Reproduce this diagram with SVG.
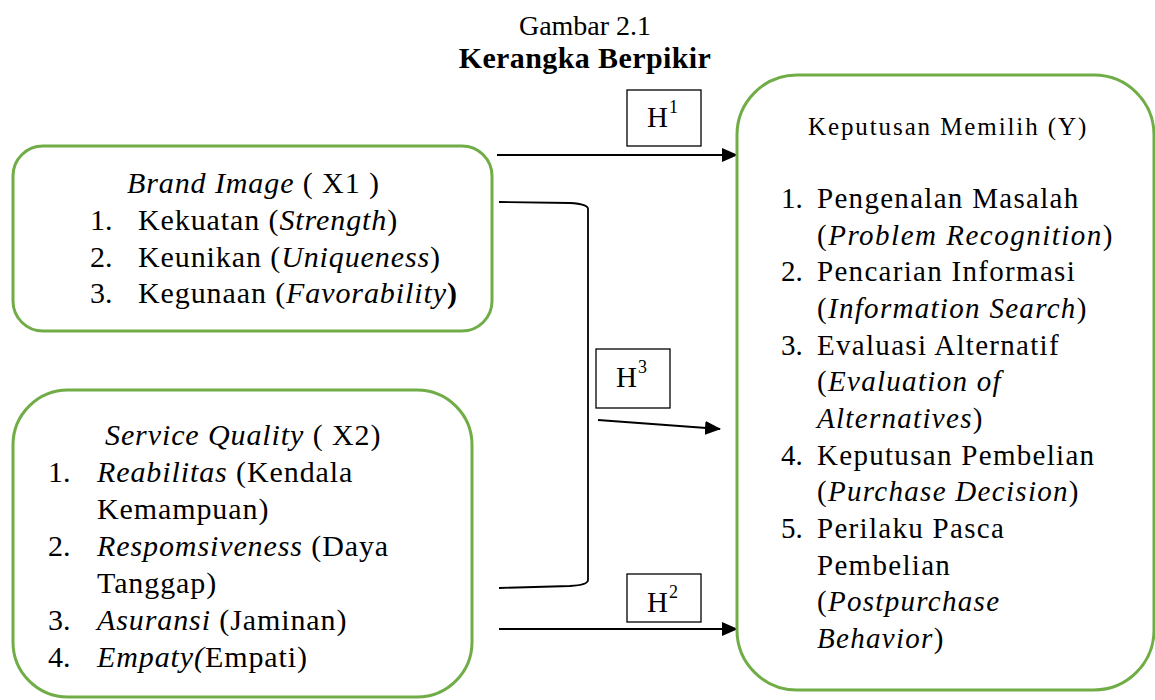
<svg xmlns="http://www.w3.org/2000/svg" width="1155" height="700" viewBox="0 0 1155 700">
<defs>
<style>
.box{fill:#fff;stroke:#70AD47;stroke-width:3}
.hb{fill:#fff;stroke:#000;stroke-width:1.3}
.ln{fill:none;stroke:#000;stroke-width:1.8}
</style>
<marker id="ah" markerWidth="16" markerHeight="14" refX="15" refY="7" orient="auto" markerUnits="userSpaceOnUse">
<path d="M0,0 L16,7 L0,14 Z" fill="#000"/>
</marker>
</defs>
<rect width="1155" height="700" fill="#fff"/>
<g id="title">
<text font-family="Liberation Serif, serif" font-size="28" x="585" y="35" text-anchor="middle">Gambar 2.1</text>
<text font-family="Liberation Serif, serif" font-size="30" letter-spacing="0.4" x="585" y="68" text-anchor="middle" font-weight="bold">Kerangka Berpikir</text>
</g>
<g id="connectors">
<line class="ln" x1="497" y1="155" x2="737" y2="155" marker-end="url(#ah)"/>
<line class="ln" x1="499" y1="629" x2="737" y2="629" marker-end="url(#ah)"/>
<line class="ln" x1="598" y1="420" x2="720" y2="429" marker-end="url(#ah)"/>
<path class="ln" stroke-width="1.5" d="M499 202 L570 203 Q588 204 588 209 L588 580 Q588 585 570 586 L499 588"/>
</g>
<g id="x1">
<rect class="box" x="13" y="146" width="479" height="185" rx="30"/>
<text font-family="Liberation Serif, serif" font-size="30" letter-spacing="0.9" x="127" y="193"><tspan font-style="italic">Brand Image</tspan> ( X1 )</text>
<text font-family="Liberation Serif, serif" font-size="30" x="90" y="230">1.</text>
<text font-family="Liberation Serif, serif" font-size="30" letter-spacing="0.9" x="138" y="230">Kekuatan (<tspan font-style="italic">Strength</tspan>)</text>
<text font-family="Liberation Serif, serif" font-size="30" x="90" y="267">2.</text>
<text font-family="Liberation Serif, serif" font-size="30" letter-spacing="0.9" x="138" y="267">Keunikan (<tspan font-style="italic">Uniqueness</tspan>)</text>
<text font-family="Liberation Serif, serif" font-size="30" x="90" y="303">3.</text>
<text font-family="Liberation Serif, serif" font-size="30" letter-spacing="0.9" x="138" y="303">Kegunaan (<tspan font-style="italic">Favorability</tspan><tspan font-weight="bold">)</tspan></text>
</g>
<g id="x2">
<rect class="box" x="13" y="390" width="459" height="307" rx="55"/>
<text font-family="Liberation Serif, serif" font-size="30" letter-spacing="0.9" x="105" y="445"><tspan font-style="italic">Service Quality</tspan> ( X2)</text>
<text font-family="Liberation Serif, serif" font-size="30" x="48" y="482">1.</text>
<text font-family="Liberation Serif, serif" font-size="30" letter-spacing="0.9" x="97" y="482"><tspan font-style="italic">Reabilitas</tspan> (Kendala</text>
<text font-family="Liberation Serif, serif" font-size="30" letter-spacing="0.9" x="97" y="519">Kemampuan)</text>
<text font-family="Liberation Serif, serif" font-size="30" x="48" y="556">2.</text>
<text font-family="Liberation Serif, serif" font-size="30" letter-spacing="0.9" x="97" y="556"><tspan font-style="italic">Respomsiveness</tspan> (Daya</text>
<text font-family="Liberation Serif, serif" font-size="30" letter-spacing="0.9" x="97" y="593">Tanggap)</text>
<text font-family="Liberation Serif, serif" font-size="30" x="48" y="630">3.</text>
<text font-family="Liberation Serif, serif" font-size="30" letter-spacing="0.9" x="97" y="630"><tspan font-style="italic">Asuransi</tspan> (Jaminan)</text>
<text font-family="Liberation Serif, serif" font-size="30" x="48" y="667">4.</text>
<text font-family="Liberation Serif, serif" font-size="30" letter-spacing="0.9" x="97" y="667"><tspan font-style="italic">Empaty(</tspan>Empati)</text>
</g>
<g id="y">
<rect class="box" x="737" y="75" width="417" height="615" rx="60"/>
<text font-family="Liberation Serif, serif" font-size="25" x="808" y="135" letter-spacing="1.9">Keputusan Memilih (Y)</text>
<text font-family="Liberation Serif, serif" font-size="29" x="781" y="208">1.</text>
<text font-family="Liberation Serif, serif" font-size="29" letter-spacing="1.3" x="817" y="208">Pengenalan Masalah</text>
<text font-family="Liberation Serif, serif" font-size="29" letter-spacing="1.5" x="817" y="245">(<tspan font-style="italic">Problem Recognition</tspan>)</text>
<text font-family="Liberation Serif, serif" font-size="29" x="781" y="281">2.</text>
<text font-family="Liberation Serif, serif" font-size="29" letter-spacing="1.3" x="817" y="281">Pencarian Informasi</text>
<text font-family="Liberation Serif, serif" font-size="29" letter-spacing="1.3" x="817" y="318">(<tspan font-style="italic">Information Search</tspan>)</text>
<text font-family="Liberation Serif, serif" font-size="29" x="781" y="355">3.</text>
<text font-family="Liberation Serif, serif" font-size="29" letter-spacing="1.3" x="817" y="355">Evaluasi Alternatif</text>
<text font-family="Liberation Serif, serif" font-size="29" letter-spacing="1.3" x="817" y="391">(<tspan font-style="italic">Evaluation of</tspan></text>
<text font-family="Liberation Serif, serif" font-size="29" letter-spacing="1.3" x="817" y="428"><tspan font-style="italic">Alternatives</tspan>)</text>
<text font-family="Liberation Serif, serif" font-size="29" x="781" y="465">4.</text>
<text font-family="Liberation Serif, serif" font-size="29" letter-spacing="1.3" x="817" y="465">Keputusan Pembelian</text>
<text font-family="Liberation Serif, serif" font-size="29" letter-spacing="1.3" x="817" y="501">(<tspan font-style="italic">Purchase Decision</tspan>)</text>
<text font-family="Liberation Serif, serif" font-size="29" x="781" y="538">5.</text>
<text font-family="Liberation Serif, serif" font-size="29" letter-spacing="1.3" x="817" y="538">Perilaku Pasca</text>
<text font-family="Liberation Serif, serif" font-size="29" letter-spacing="1.3" x="817" y="575">Pembelian</text>
<text font-family="Liberation Serif, serif" font-size="29" letter-spacing="1.3" x="817" y="611">(<tspan font-style="italic">Postpurchase</tspan></text>
<text font-family="Liberation Serif, serif" font-size="29" letter-spacing="1.3" x="817" y="648"><tspan font-style="italic">Behavior</tspan>)</text>
</g>
<g id="h1">
<rect class="hb" x="627" y="90" width="74" height="56"/>
<text font-family="Liberation Serif, serif" font-size="29" x="647" y="127">H</text>
<text font-family="Liberation Serif, serif" font-size="18" x="669" y="113">1</text>
</g>
<g id="h3">
<rect class="hb" x="596" y="349" width="74" height="59"/>
<text font-family="Liberation Serif, serif" font-size="29" x="616" y="387">H</text>
<text font-family="Liberation Serif, serif" font-size="18" x="638" y="373">3</text>
</g>
<g id="h2">
<rect class="hb" x="627" y="574" width="74" height="48"/>
<text font-family="Liberation Serif, serif" font-size="29" x="647" y="612">H</text>
<text font-family="Liberation Serif, serif" font-size="18" x="669" y="598">2</text>
</g>
</svg>
